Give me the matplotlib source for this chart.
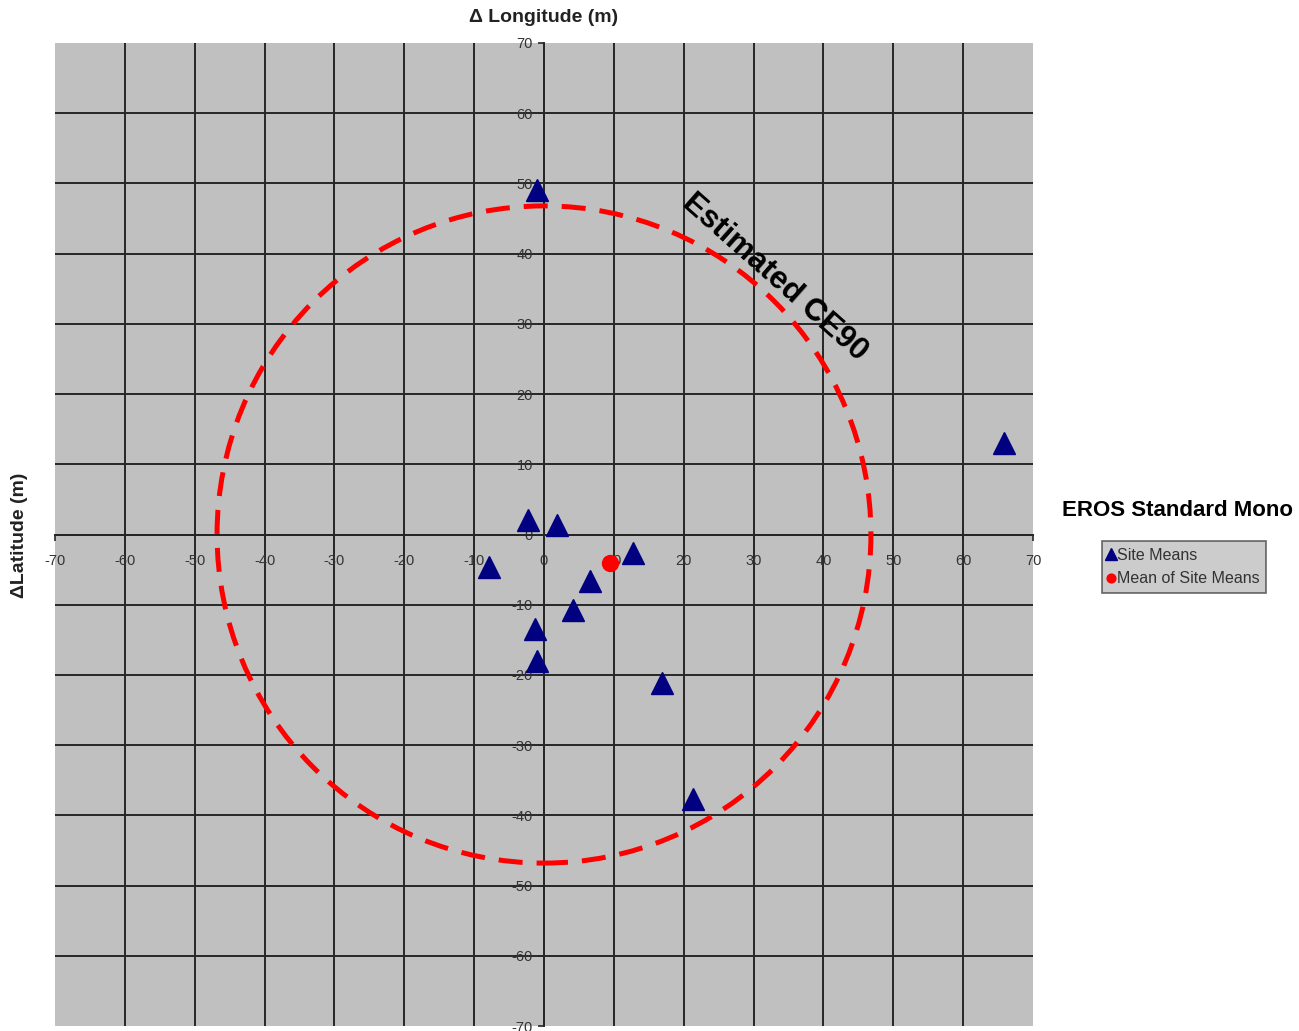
import numpy as np
import matplotlib
matplotlib.use("Agg")
import matplotlib.pyplot as plt
from matplotlib.patches import Circle

plt.rcParams['font.family'] = ['Liberation Sans', 'DejaVu Sans']

# Data
site_dx = [-1.0, -2.3, 1.9, -7.9, 12.7, 6.6, 4.2, -1.3, -1.0, 16.9, 21.3, 65.8]
site_dy = [49.0, 2.0, 1.4, -4.6, -2.7, -6.6, -10.8, -13.5, -18.0, -21.1, -37.6, 13.1]
mean_dx = [9.5]
mean_dy = [-4.0]
ce90_radius = 46.8
ticks = list(range(-70, 71, 10))

fig = plt.figure(figsize=(12.99, 10.31), dpi=100)
W, H = 1299, 1031
ax = fig.add_axes([55 / W, 1 - 1026 / H, (1033 - 55) / W, (1026 - 43) / H])
ax.set_facecolor('#c0c0c0')
ax.set_xlim(-70, 70)
ax.set_ylim(-70, 70)

# grid lines (inner only)
for v in ticks[1:-1]:
    ax.axvline(v, color='#262626', lw=1.4, zorder=1)
    ax.axhline(v, color='#262626', lw=1.4, zorder=1)

for s in ['top', 'right']:
    ax.spines[s].set_visible(False)
ax.spines['left'].set_position(('data', 0))
ax.spines['bottom'].set_position(('data', 0))
for s in ['left', 'bottom']:
    ax.spines[s].set_color('#262626')
    ax.spines[s].set_linewidth(1.4)

ax.set_xticks(ticks)
ax.set_yticks(ticks)
ax.set_xticklabels([str(t) for t in ticks])
ax.set_yticklabels([str(t) for t in ticks])
ax.tick_params(axis='both', direction='out', length=4, width=1.2, color='#262626',
               labelsize=10.5, labelcolor='#333333')
ax.tick_params(axis='x', pad=10)
ax.tick_params(axis='y', pad=4)

# CE90 circle
circ = Circle((0, 0), ce90_radius, fill=False, edgecolor='#ff0000', lw=3.6,
              linestyle=(0, (4.8, 2.8)), zorder=3)
ax.add_patch(circ)

h1, = ax.plot(site_dx, site_dy, linestyle='none', marker='^', ms=16, color='#000080',
              markeredgecolor='#000080', zorder=5, label='Site Means')
h2, = ax.plot(mean_dx, mean_dy, linestyle='none', marker='o', ms=11.5, color='#ff0000',
              markeredgecolor='#ff0000', zorder=6, label='Mean of Site Means')

ax.text(33, 36.6, 'Estimated CE90', rotation=-41.5, fontsize=22.5, fontweight='bold',
        ha='center', va='center', rotation_mode='anchor', zorder=7)

fig.text(544 / W, 1 - 18 / H, 'Δ Longitude (m)', ha='center', va='center',
         fontsize=14, fontweight='bold', color='#222222')
fig.text(20 / W, 1 - 535 / H, 'ΔLatitude (m)', ha='center', va='center',
         rotation=90, fontsize=14, fontweight='bold', color='#222222')

fig.text(1178 / W, 1 - 511 / H, 'EROS Standard Mono', ha='center', va='center',
         fontsize=16, fontweight='bold')

leg = fig.legend(handles=[h1, h2], loc='center', bbox_to_anchor=(1184 / W, 1 - 567 / H),
                 fontsize=11.5, frameon=True, fancybox=False, markerscale=0.55,
                 handlelength=0.4, handletextpad=0.2, borderpad=0.4, labelspacing=0.55,
                 borderaxespad=0)
leg.get_frame().set_facecolor('#c0c0c0')
leg.get_frame().set_edgecolor('#444444')
leg.get_frame().set_linewidth(1.2)
for t in leg.get_texts():
    t.set_color('#333333')

fig.savefig('out.png', dpi=100, facecolor='white')
